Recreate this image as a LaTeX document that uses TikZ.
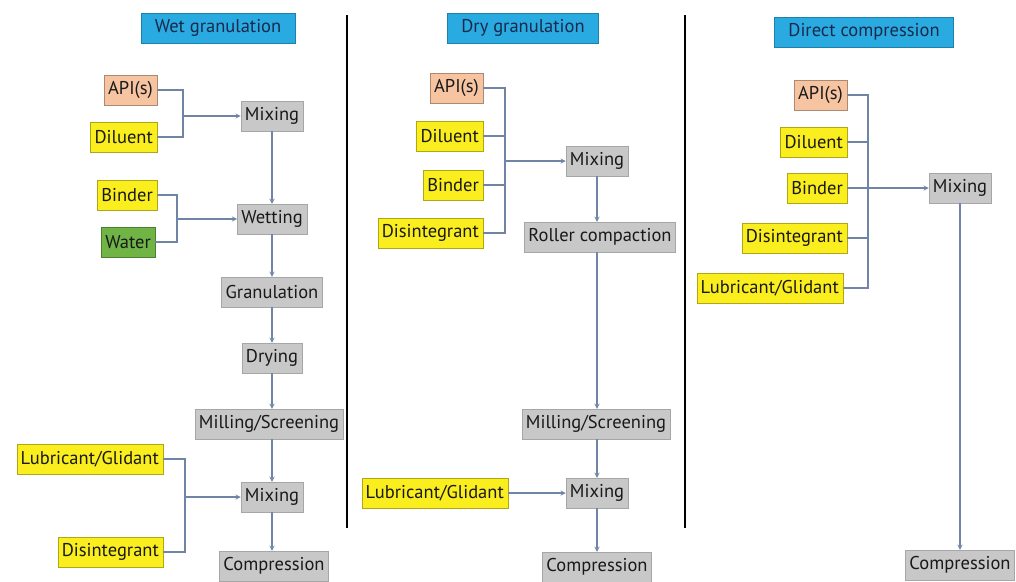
\documentclass[tikz,border=0pt]{standalone}
\usepackage{fontspec}
\setmainfont{PT Sans}
\usepackage{tikz}

\definecolor{titleblue}{RGB}{41,171,226}
\definecolor{titletext}{RGB}{25,40,75}
\definecolor{peach}{RGB}{246,196,160}
\definecolor{lemon}{RGB}{250,238,30}
\definecolor{leaf}{RGB}{112,180,70}
\definecolor{procgray}{RGB}{200,200,200}
\definecolor{wireblue}{RGB}{112,132,165}

\begin{document}
\begin{tikzpicture}[
        x=1pt, y=-1pt,
        >=stealth,
        every node/.style={rectangle, minimum height=30pt, inner xsep=4pt, font=\fontsize{18.5}{22}\selectfont, text=black!90},
        titlebox/.style={fill=titleblue, draw=titleblue!75!black, text=titletext, minimum height=30pt, inner xsep=14pt},
        procbox/.style={fill=procgray, draw=black!35},
        apibox/.style={fill=peach, draw=peach!70!black, anchor=east},
        ingbox/.style={fill=lemon, draw=lemon!70!black, anchor=east},
        waterbox/.style={fill=leaf, draw=leaf!70!black, anchor=east},
        wire/.style={draw=wireblue, line width=1.3pt},
        divider/.style={draw=black, line width=2.6pt}
    ]
        \useasboundingbox (0,0) rectangle (1016,581);

        % Dividers
        \draw[divider] (347,15) -- (347,528);
        \draw[divider] (685,15) -- (685,528);

        % Wet granulation nodes
        \node[titlebox] (wtitle) at (218,28) {Wet granulation};
        \node[apibox] (wapi) at (157,90) {API(s)};
        \node[ingbox] (wdil) at (157,137) {Diluent};
        \node[procbox] (wmix1) at (272,116) {Mixing};
        \node[ingbox] (wbind) at (157,195) {Binder};
        \node[waterbox] (wwater) at (155,242) {Water};
        \node[procbox] (wwet) at (272,219) {Wetting};
        \node[procbox] (wgran) at (272,292) {Granulation};
        \node[procbox] (wdry) at (272,358) {Drying};
        \node[procbox] (wmill) at (269,424) {Milling/Screening};
        \node[ingbox] (wlub) at (163,459) {Lubricant/Glidant};
        \node[procbox] (wmix2) at (272,497) {Mixing};
        \node[ingbox] (wdis) at (163,552) {Disintegrant};
        \node[procbox] (wcomp) at (274,566) {Compression};
        \coordinate (wj1) at (183,116);
        \coordinate (wj2) at (177,219);
        \coordinate (wj3) at (185,497);

        % Wet granulation arrows
        \draw[wire] (wapi.east) -| (wj1) |- (wdil.east);
        \draw[wire,->] (wj1) -- (wmix1);
        \draw[wire] (wbind.east) -| (wj2) |- (wwater.east);
        \draw[wire,->] (wj2) -- (wwet);
        \draw[wire,->] (wmix1) -- (wwet);
        \draw[wire,->] (wwet) -- (wgran);
        \draw[wire,->] (wgran) -- (wdry);
        \draw[wire,->] (wdry) -- (wdry |- wmill.north);
        \draw[wire,->] (wdry |- wmill.south) -- (wmix2);
        \draw[wire] (wlub.east) -| (wj3) |- (wdis.east);
        \draw[wire,->] (wj3) -- (wmix2);
        \draw[wire,->] (wmix2) -- (wmix2 |- wcomp.north);

        % Dry granulation nodes
        \node[titlebox] (dtitle) at (523,28) {Dry granulation};
        \node[apibox] (dapi) at (483,88) {API(s)};
        \node[ingbox] (ddil) at (483,136) {Diluent};
        \node[ingbox] (dbind) at (483,185) {Binder};
        \node[ingbox] (ddis) at (483,233) {Disintegrant};
        \node[procbox] (dmix1) at (597,161) {Mixing};
        \node[procbox] (droll) at (600,237) {Roller compaction};
        \node[procbox] (dmill) at (596,424) {Milling/Screening};
        \node[ingbox] (dlub) at (508,493) {Lubricant/Glidant};
        \node[procbox] (dmix2) at (597,493) {Mixing};
        \node[procbox] (dcomp) at (597,567) {Compression};
        \coordinate (dj1) at (505,161);

        % Dry granulation arrows
        \draw[wire] (dapi.east) -| (dj1) |- (ddis.east);
        \draw[wire] (ddil.east) -- (ddil.east -| dj1);
        \draw[wire] (dbind.east) -- (dbind.east -| dj1);
        \draw[wire,->] (dj1) -- (dmix1);
        \draw[wire,->] (dmix1) -- (dmix1 |- droll.north);
        \draw[wire,->] (dmix1 |- droll.south) -- (dmix1 |- dmill.north);
        \draw[wire,->] (dmix1 |- dmill.south) -- (dmix2);
        \draw[wire,->] (dlub) -- (dmix2);
        \draw[wire,->] (dmix2) -- (dcomp);

        % Direct compression nodes
        \node[titlebox] (ctitle) at (864,32) {Direct compression};
        \node[apibox] (capi) at (847,95) {API(s)};
        \node[ingbox] (cdil) at (847,142) {Diluent};
        \node[ingbox] (cbind) at (847,188) {Binder};
        \node[ingbox] (cdis) at (847,238) {Disintegrant};
        \node[ingbox] (club) at (843,288) {Lubricant/Glidant};
        \node[procbox] (cmix) at (960,188) {Mixing};
        \node[procbox] (ccomp) at (960,565) {Compression};
        \coordinate (cj1) at (868,188);

        % Direct compression arrows
        \draw[wire] (capi.east) -| (cj1) |- (club.east);
        \draw[wire] (cdil.east) -- (cdil.east -| cj1);
        \draw[wire] (cdis.east) -- (cdis.east -| cj1);
        \draw[wire,->] (cbind) -- (cmix);
        \draw[wire,->] (cmix) -- (ccomp);
    \end{tikzpicture}
\end{document}
